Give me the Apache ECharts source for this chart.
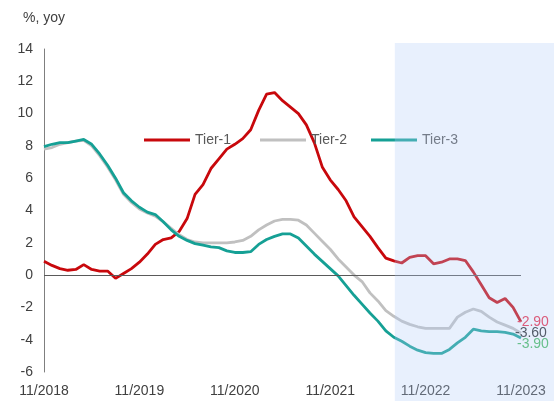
<!DOCTYPE html>
<html>
<head>
<meta charset="utf-8">
<script src="https://cdn.jsdelivr.net/npm/echarts@6/dist/echarts.min.js"></script>
<style>
html,body{margin:0;padding:0;background:#fff;}
#main{width:554px;height:401px;}
</style>
</head>
<body>
<div id="main"></div>
<script>
var categories = [
 "11/2018","12/2018","1/2019","2/2019","3/2019","4/2019","5/2019","6/2019","7/2019","8/2019","9/2019","10/2019",
 "11/2019","12/2019","1/2020","2/2020","3/2020","4/2020","5/2020","6/2020","7/2020","8/2020","9/2020","10/2020",
 "11/2020","12/2020","1/2021","2/2021","3/2021","4/2021","5/2021","6/2021","7/2021","8/2021","9/2021","10/2021",
 "11/2021","12/2021","1/2022","2/2022","3/2022","4/2022","5/2022","6/2022","7/2022","8/2022","9/2022","10/2022",
 "11/2022","12/2022","1/2023","2/2023","3/2023","4/2023","5/2023","6/2023","7/2023","8/2023","9/2023","10/2023",
 "11/2023"
];
var tier1 = [0.85,0.6,0.4,0.3,0.35,0.65,0.35,0.25,0.25,-0.2,0.1,0.4,
 0.8,1.3,1.9,2.2,2.3,2.7,3.5,5.0,5.6,6.6,7.2,7.8,
 8.1,8.45,9.0,10.2,11.2,11.3,10.8,10.4,10.0,9.3,8.2,6.7,
 5.9,5.3,4.6,3.6,3.0,2.4,1.7,1.05,0.88,0.75,1.1,1.2,
 1.2,0.7,0.8,1.0,1.0,0.9,0.2,-0.6,-1.4,-1.7,-1.45,-2.0,
 -2.9];
var tier2 = [7.8,7.9,8.1,8.2,8.3,8.35,8.0,7.4,6.7,5.9,5.0,4.5,
 4.1,3.85,3.65,3.3,2.9,2.5,2.2,2.05,2.0,2.0,2.0,2.0,
 2.05,2.15,2.4,2.8,3.1,3.35,3.45,3.45,3.4,3.1,2.6,2.1,
 1.6,1.0,0.5,0.0,-0.4,-1.1,-1.6,-2.2,-2.55,-2.85,-3.05,-3.2,
 -3.3,-3.3,-3.3,-3.3,-2.6,-2.3,-2.1,-2.25,-2.6,-2.9,-3.1,-3.3,
 -3.6];
var tier3 = [7.95,8.1,8.2,8.2,8.3,8.4,8.1,7.5,6.8,6.0,5.1,4.6,
 4.2,3.9,3.75,3.3,2.8,2.4,2.15,1.95,1.85,1.75,1.7,1.5,
 1.4,1.4,1.45,1.9,2.2,2.4,2.55,2.55,2.3,1.8,1.3,0.85,
 0.4,-0.05,-0.65,-1.25,-1.8,-2.35,-2.85,-3.45,-3.85,-4.1,-4.4,-4.65,
 -4.8,-4.85,-4.85,-4.6,-4.2,-3.85,-3.35,-3.45,-3.5,-3.5,-3.55,-3.65,
 -3.9];
var seriesNames = ["Tier-1","Tier-2","Tier-3"];
var shadeStart = "7/2022";

var FONT = '"Liberation Sans", Arial, sans-serif';
var chart = echarts.init(document.getElementById('main'), null, {renderer:'canvas'});

function legendFor(name, left){
  return {
    data:[name], left:left, top:128, icon:'rect', itemWidth:46, itemHeight:3,
    textStyle:{color:'#595959', fontSize:14, fontFamily:FONT}, selectedMode:false
  };
}

var option = {
  animation:false,
  backgroundColor:'#ffffff',
  title:{ text:'%, yoy', left:18, top:6,
    textStyle:{color:'#404040', fontSize:14, fontWeight:'normal', fontFamily:FONT} },
  legend:[ legendFor(seriesNames[0],139), legendFor(seriesNames[1],255), legendFor(seriesNames[2],366) ],
  grid:{ left:44, right:33, top:49, bottom:29, containLabel:false },
  xAxis:{
    type:'category', data:categories, boundaryGap:false,
    axisLine:{show:false}, axisTick:{show:false}, splitLine:{show:false},
    axisLabel:{ interval:function(i){return i%12===0;}, margin:12,
      color:'#404040', fontSize:14, fontFamily:FONT }
  },
  yAxis:{
    type:'value', min:-6, max:14, interval:2,
    axisLine:{show:true, lineStyle:{color:'#7f7f7f', width:1}},
    axisTick:{show:false}, splitLine:{show:false},
    axisLabel:{ margin:11, color:'#404040', fontSize:14, fontFamily:FONT }
  },
  series:[
    { name:seriesNames[0], type:'line', data:tier1, symbol:'none', color:'#c8080c',
      lineStyle:{width:2.8, color:'#c8080c'},
      markLine:{ silent:true, symbol:['none','none'], label:{show:false},
        lineStyle:{color:'#5a5a5a', width:1, type:'solid'}, data:[{yAxis:0}] },
      endLabel:{ show:true, formatter:function(p){return p.value.toFixed(2);},
        color:'#ec2b45', fontSize:14, fontFamily:FONT, distance:0, offset:[-4,0] } },
    { name:seriesNames[1], type:'line', data:tier2, symbol:'none', color:'#c0c0c0',
      lineStyle:{width:2.8, color:'#c0c0c0'},
      endLabel:{ show:true, formatter:function(p){return p.value.toFixed(2);},
        color:'#2a2a2a', fontSize:14, fontFamily:FONT, distance:0, offset:[-6,0] } },
    { name:seriesNames[2], type:'line', data:tier3, symbol:'none', color:'#15a095',
      lineStyle:{width:2.8, color:'#15a095'},
      endLabel:{ show:true, formatter:function(p){return p.value.toFixed(2);},
        color:'#47ba5d', fontSize:14, fontFamily:FONT, distance:0, offset:[-4,6] } }
  ]
};
chart.setOption(option);

var x0 = chart.convertToPixel({xAxisIndex:0}, shadeStart);
var yTop = chart.convertToPixel({yAxisIndex:0}, 14) - 6;
chart.setOption({
  graphic:[{
    type:'rect', z:100, silent:true,
    shape:{ x:x0+1, y:yTop, width:554 - x0, height:401 - yTop },
    style:{ fill:'rgba(178,205,248,0.3)' }
  }]
});
</script>
</body>
</html>
